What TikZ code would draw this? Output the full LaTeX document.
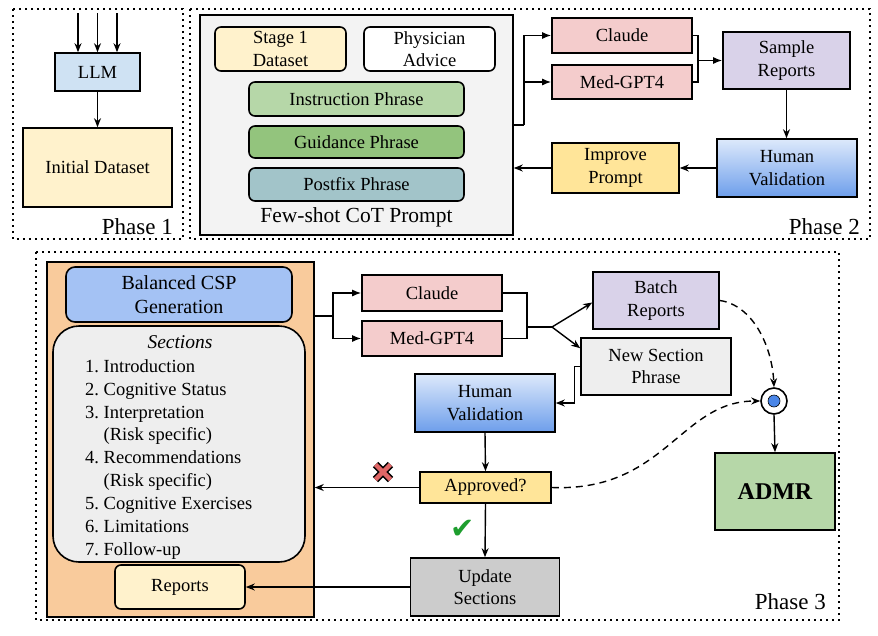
\documentclass[tikz,border=0pt]{standalone}
\usepackage{fontspec}
\setmainfont{Liberation Serif}
\newfontfamily\djv{DejaVu Sans}
\usetikzlibrary{arrows.meta,calc}
\newcommand\myfs{\fontsize{18.5}{22.5}\selectfont}
\definecolor{cLLM}{HTML}{CFE2F3}
\definecolor{cYel}{HTML}{FFF2CC}
\definecolor{cGray}{HTML}{F3F3F3}
\definecolor{cInstr}{HTML}{B6D7A8}
\definecolor{cGuid}{HTML}{93C47D}
\definecolor{cPost}{HTML}{A2C4C9}
\definecolor{cRed}{HTML}{F4CCCC}
\definecolor{cPurp}{HTML}{D9D2E9}
\definecolor{cGold}{HTML}{FFE599}
\definecolor{cOrange}{HTML}{F9CB9C}
\definecolor{cCSP}{HTML}{A4C2F4}
\definecolor{cSec}{HTML}{EEEEEE}
\definecolor{cUpd}{HTML}{CCCCCC}
\definecolor{cHVtop}{HTML}{DDE9FB}
\definecolor{cHVbot}{HTML}{6D9EEB}
\definecolor{cDot}{HTML}{4A86E8}
\definecolor{cCross}{HTML}{E06666}
\definecolor{cCheck}{HTML}{1E9E2E}
\begin{document}
\begin{tikzpicture}[x=1pt,y=-1pt,
  box/.style={draw, line width=1.6pt, align=center, inner sep=1pt, font=\myfs},
  rbox/.style={box, rounded corners=6pt},
  hv/.style={box, top color=cHVtop, bottom color=cHVbot},
  phase/.style={draw, line width=1.6pt, dash pattern=on 1.6pt off 4.4pt},
  plabel/.style={font=\fontsize{23}{26}\selectfont, inner sep=0pt},
  arr/.style={-{Stealth[length=9pt,width=7pt]}, line width=1.4pt},
  arl/.style={-{Latex[length=9pt,width=7pt]}, line width=1.4pt},
  ln/.style={line width=1.4pt},
  dsh/.style={-{Stealth[length=9pt,width=7pt]}, line width=1.4pt, dash pattern=on 7pt off 5pt}]
\useasboundingbox (0,0) rectangle (878,635);
% ---------- phase frames
\draw[phase] (13,9) rectangle (183,239);
\draw[phase] (190,9) rectangle (870,239);
\draw[phase] (36,252) rectangle (839,620);
\node[plabel, anchor=south east] (p1) at (173,235) {Phase 1};
\node[plabel, anchor=south east] (p2) at (860,235) {Phase 2};
\node[plabel, anchor=south east] (p3) at (826,610) {Phase 3};
% ---------- Phase 1
\node[box, fill=cLLM, minimum width=85pt, minimum height=38pt] (llm) at (97.5,72) {LLM};
\node[box, fill=cYel, minimum width=149pt, minimum height=79pt] (init) at (97.5,167.5) {Initial Dataset};
\coordinate (i1) at (78,13);
\coordinate (i2) at (97.5,13);
\coordinate (i3) at (117,13);
\draw[arr] (i1) -- (i1 |- llm.north);
\draw[arr] (i2) -- (i2 |- llm.north);
\draw[arr] (i3) -- (i3 |- llm.north);
\draw[arr] (llm.south) -- (init.north);
% ---------- Phase 2
\node[draw, line width=1.6pt, fill=cGray, minimum width=313pt, minimum height=220pt] (few) at (356.5,125) {};
\node[font=\fontsize{21.5}{24}\selectfont, inner sep=0pt] (fewl) at (356.5,217) {Few-shot CoT Prompt};
\node[rbox, fill=cYel, minimum width=131pt, minimum height=44pt] (stage) at (280.5,49) {Stage 1\\Dataset};
\node[rbox, fill=white, minimum width=131pt, minimum height=44pt] (phys) at (429.5,49) {Physician\\Advice};
\node[rbox, fill=cInstr, minimum width=215pt, minimum height=34pt] (instr) at (356.5,99) {Instruction Phrase};
\node[rbox, fill=cGuid, minimum width=215pt, minimum height=32pt] (guid) at (356.5,142) {Guidance Phrase};
\node[rbox, fill=cPost, minimum width=215pt, minimum height=33pt] (post) at (356.5,184.5) {Postfix Phrase};
\node[box, fill=cRed, minimum width=140pt, minimum height=35pt] (cl2) at (622,35.5) {Claude};
\node[box, fill=cRed, minimum width=140pt, minimum height=34pt] (md2) at (622,82) {Med-GPT4};
\node[box, fill=cPurp, minimum width=127pt, minimum height=57pt] (samp) at (786.5,60.5) {Sample\\Reports};
\node[hv, minimum width=140pt, minimum height=58pt] (hv2) at (787,168) {Human\\Validation};
\node[box, fill=cGold, minimum width=127pt, minimum height=50pt] (impr) at (615.5,168) {Improve\\Prompt};
\coordinate (j2) at (524,125);
\draw[ln] (few.east) -- (j2);
\draw[arl] (j2) |- (cl2.west);
\draw[arl] (j2) |- (md2.west);
\coordinate (k2) at (698,60.5);
\draw[ln] (cl2.east) -| (k2);
\draw[ln] (md2.east) -| (k2);
\draw[arl] (k2) -- (samp.west);
\draw[arr] (samp.south) -- (samp.south |- hv2.north);
\draw[arr] (hv2.west) -- (impr.east);
\draw[arr] (impr.west) -- (impr.west -| few.east);
% ---------- Phase 3
\node[draw, line width=1.6pt, fill=cOrange, minimum width=267pt, minimum height=355pt] (orng) at (180.5,439.5) {};
\node[box, fill=cCSP, rounded corners=9pt, minimum width=226pt, minimum height=55pt, font=\fontsize{20}{24}\selectfont] (csp) at (179,294.5) {Balanced CSP\\Generation};
\node[box, fill=cSec, rounded corners=26pt, minimum width=252pt, minimum height=236pt] (sec) at (179,444) {};
\node[font=\fontsize{19.5}{22}\selectfont\itshape, inner sep=0pt] (secl) at (180,342) {Sections};
\node[anchor=north west, inner sep=0pt, font=\fontsize{18.5}{22.9}\selectfont] (list) at (85,356) {%
\begin{tabular}{@{}l@{\ }l@{}}
1. & Introduction\\
2. & Cognitive Status\\
3. & Interpretation\\
   & (Risk specific)\\
4. & Recommendations\\
   & (Risk specific)\\
5. & Cognitive Exercises\\
6. & Limitations\\
7. & Follow-up
\end{tabular}};
\node[rbox, fill=cYel, minimum width=130pt, minimum height=44pt] (rep) at (180,587) {Reports};
\node[box, fill=cRed, minimum width=140pt, minimum height=36pt] (cl3) at (432,293) {Claude};
\node[box, fill=cRed, minimum width=140pt, minimum height=35pt] (md3) at (432,338.5) {Med-GPT4};
\node[box, fill=cPurp, minimum width=126pt, minimum height=57pt] (batch) at (656,300.5) {Batch\\Reports};
\node[box, fill=cSec, minimum width=150pt, minimum height=57pt] (nsec) at (656,366.5) {New Section\\Phrase};
\node[hv, minimum width=140pt, minimum height=58pt] (hv3) at (485,403) {Human\\Validation};
\node[box, fill=cGold, minimum width=131pt, minimum height=31pt] (appr) at (485.5,487.5) {Approved?};
\node[box, fill=cUpd, minimum width=149pt, minimum height=58pt] (upd) at (485,587) {Update\\Sections};
\node[box, fill=cInstr, minimum width=120pt, minimum height=77pt, font=\fontsize{24}{28}\selectfont\bfseries] (admr) at (775,491.5) {ADMR};
\node[draw, circle, line width=1.6pt, fill=white, minimum size=26pt, inner sep=0pt] (circ) at (774,401) {};
\fill[cDot, draw=black, line width=0.6pt] (circ.center) circle (6pt);
\coordinate (j3) at (333,316);
\draw[ln] (orng.east |- j3) -- (j3);
\draw[arl] (j3) |- (cl3.west);
\draw[arl] (j3) |- (md3.west);
\coordinate (m3) at (527,327);
\coordinate (k3) at (552,327);
\draw[ln] (cl3.east) -| (m3);
\draw[ln] (md3.east) -| (m3);
\draw[ln] (m3) -- (k3);
\draw[arr] (k3) -- ($(batch.west)+(0,2)$);
\draw[arr] (k3) -- ($(nsec.north west)+(0,11)$);
\draw[arr] (nsec.west) -- ++(-6,0) |- (hv3.east);
\draw[arr] (hv3.south) -- (appr.north);
\draw[arr] (appr.west) -- (appr.west -| orng.east);
\draw[arr] (appr.south) -- (upd.north);
\draw[arr] (upd.west) -- (rep.east);
\draw[dsh] (batch.east) .. controls (752,305) and (772,345) .. (circ.north);
\draw[dsh] (appr.east) .. controls (665,492) and (680,401) .. (circ.west);
\draw[arr] (circ.south) -- (admr.north);
% cross and check
\coordinate (cx) at (383,472);
\draw[line width=7.5pt] ($(cx)+(-7.5,-7.5)$) -- ($(cx)+(7.5,7.5)$) ($(cx)+(-7.5,7.5)$) -- ($(cx)+(7.5,-7.5)$);
\draw[line width=4.5pt, cCross] ($(cx)+(-7.5,-7.5)$) -- ($(cx)+(7.5,7.5)$) ($(cx)+(-7.5,7.5)$) -- ($(cx)+(7.5,-7.5)$);
\node[text=cCheck, font=\djv\fontsize{29}{32}\selectfont, inner sep=0pt] (chk) at (463,529) {✔};
\end{tikzpicture}
\end{document}
